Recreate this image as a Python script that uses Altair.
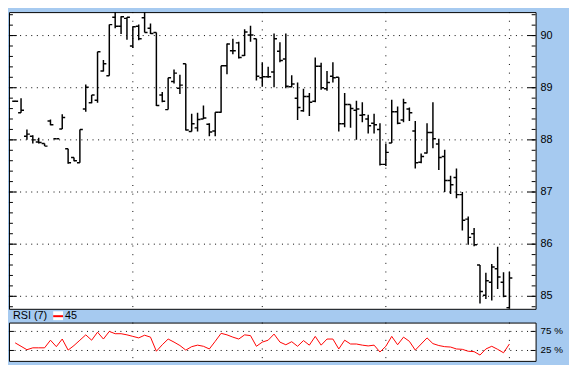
import altair as alt
import pandas as pd

# ---------------- data ----------------
opens = [88.74, 88.52, 88.07, 88.07, 87.96, 87.93, 88.36, 88.02, 88.21, 87.83,
         87.66, 87.56, 88.59, 88.71, 88.76, 89.32, 89.23, 90.35, 90.18, 90.33,
         89.80, 90.18, 90.34, 90.14, 90.06, 88.86, 88.58, 89.12, 88.99, 89.46,
         88.16, 88.23, 88.40, 88.30, 88.17, 88.53, 89.42, 89.71, 89.86, 89.62,
         90.01, 89.94, 89.19, 89.21, 89.30, 89.70, 89.55, 89.02, 88.80, 88.56,
         88.83, 88.74, 89.41, 88.98, 89.22, 89.20, 88.31, 88.68, 88.57, 88.47,
         88.40, 88.32, 88.20, 87.53, 87.94, 88.54, 88.38, 88.59, 88.17, 87.57,
         87.75, 88.14, 87.92, 87.68, 87.22, 87.28, 86.95, 86.48, 86.20, 85.60,
         85.02, 85.27, 85.53, 85.27, 84.78]
highs = [88.75, 88.80, 88.20, 88.09, 88.04, 87.93, 88.39, 88.02, 88.49, 87.83,
         87.66, 88.20, 89.06, 88.86, 89.69, 89.53, 90.21, 90.50, 90.37, 90.35,
         90.18, 90.21, 90.50, 90.23, 90.06, 88.92, 89.19, 89.35, 89.25, 89.46,
         88.50, 88.52, 88.66, 88.32, 88.53, 89.42, 89.85, 89.94, 89.88, 90.12,
         90.19, 89.94, 89.49, 89.40, 90.04, 89.87, 90.04, 89.24, 89.10, 88.98,
         88.90, 89.58, 89.48, 89.32, 89.49, 89.20, 88.90, 88.68, 88.75, 88.72,
         88.48, 88.50, 88.32, 87.93, 88.77, 88.64, 88.79, 88.62, 88.36, 87.74,
         88.32, 88.72, 88.02, 87.81, 87.31, 87.45, 87.00, 86.53, 86.31, 85.60,
         85.45, 85.62, 85.95, 85.46, 85.47]
lows = [88.73, 88.52, 88.00, 87.93, 87.93, 87.88, 88.28, 88.02, 88.21, 87.54,
        87.59, 87.56, 88.54, 88.70, 88.71, 89.31, 89.23, 90.14, 90.03, 89.92,
        89.76, 89.91, 90.06, 90.03, 88.65, 88.72, 88.58, 89.08, 88.88, 88.18,
        88.16, 88.16, 88.40, 88.07, 88.07, 88.52, 89.26, 89.64, 89.56, 89.61,
        89.88, 89.14, 89.02, 89.19, 89.01, 89.49, 88.99, 89.01, 88.38, 88.54,
        88.46, 88.72, 88.96, 88.94, 89.10, 88.16, 88.24, 88.23, 88.00, 88.34,
        88.12, 88.12, 87.51, 87.50, 87.94, 88.30, 88.34, 88.36, 87.45, 87.55,
        87.74, 87.84, 87.42, 87.00, 86.96, 86.88, 86.26, 85.99, 85.96, 84.86,
        84.95, 84.92, 85.14, 84.98, 84.75]
closes = [88.74, 88.57, 88.11, 88.00, 87.95, 87.88, 88.29, 88.02, 88.43, 87.56,
          87.60, 88.20, 89.01, 88.86, 89.69, 89.46, 90.21, 90.18, 90.36, 90.35,
          90.17, 89.94, 90.06, 90.04, 88.66, 88.74, 89.19, 89.28, 89.05, 88.19,
          88.31, 88.39, 88.42, 88.15, 88.53, 89.42, 89.84, 89.71, 89.58, 90.07,
          90.01, 89.22, 89.21, 89.21, 89.94, 89.52, 89.03, 89.07, 88.62, 88.83,
          88.72, 89.41, 89.00, 89.10, 89.19, 88.31, 88.68, 88.60, 88.59, 88.48,
          88.27, 88.29, 87.53, 87.76, 88.54, 88.32, 88.71, 88.52, 87.56, 87.68,
          88.14, 88.02, 87.66, 87.22, 87.14, 86.95, 86.46, 86.13, 85.99, 85.09,
          85.30, 85.56, 85.37, 85.00, 85.35]
rsi = [45, 36, 27, 32, 32, 32, 52, 35, 55, 26,
       38, 52, 66, 52, 73, 55, 75, 69, 69, 66,
       62, 58, 65, 60, 23, 40, 55, 47, 38, 26,
       35, 39, 36, 29, 49, 70, 66, 60, 55, 66,
       64, 36, 47, 52, 68, 47, 40, 48, 36, 51,
       39, 62, 39, 55, 55, 29, 52, 42, 42, 39,
       37, 39, 21, 36, 62, 40, 60, 49, 26, 42,
       58, 43, 38, 35, 34, 29, 28, 23, 22, 13,
       29, 36, 28, 19, 42]

rsi_title = "RSI (7)"
rsi_value_label = "45"
price_major = [85, 86, 87, 88, 89, 90]
price_major_labels = ["85", "86", "87", "88", "89", "90"]
price_minor = [84.8, 85.0, 85.2, 85.4, 85.6, 85.8, 86.0, 86.2, 86.4, 86.6,
               86.8, 87.0, 87.2, 87.4, 87.6, 87.8, 88.0, 88.2, 88.4, 88.6,
               88.8, 89.0, 89.2, 89.4, 89.6, 89.8, 90.0, 90.2, 90.4]
rsi_levels = [25, 75]
rsi_level_labels = ["25 %", "75 %"]
grid_bars = [20, 42, 63, 84]

# ---------------- layout / style ----------------
W, H_MAIN, H_RSI = 536, 302, 39
RIGHT = 33          # width of the blue label strip
BLUE = "#A6CAF0"
FONT = "Liberation Sans"

ohlc = pd.DataFrame({"i": list(range(len(opens))), "open": opens, "high": highs,
                     "low": lows, "close": closes})
rsi_df = pd.DataFrame({"i": list(range(len(rsi))), "rsi": rsi})
major_df = pd.DataFrame({"v": price_major, "lab": price_major_labels})
minor_df = pd.DataFrame({"v": price_minor})
lvl_df = pd.DataFrame({"v": rsi_levels, "lab": rsi_level_labels})
gridx_df = pd.DataFrame({"g": grid_bars})

xs = alt.Scale(domain=[-1.05, 88.45], nice=False, zero=False)
ys = alt.Scale(domain=[84.76, 90.45], nice=False, zero=False)
ys_rsi = alt.Scale(domain=[-2.3, 98.2], nice=False, zero=False)


def hgrid(df, scale):
    return alt.Chart(df).mark_rule(color="black", strokeWidth=1, strokeDash=[1, 4.67]).encode(
        y=alt.Y("v:Q", scale=scale, axis=None), x=alt.value(0), x2=alt.value(W))


def vgrid(h):
    return alt.Chart(gridx_df).mark_rule(color="black", strokeWidth=1, strokeDash=[1, 7.8]).encode(
        x=alt.X("g:Q", scale=xs, axis=None), y=alt.value(0), y2=alt.value(h))


def ticks(df, scale, x0, x1):
    return alt.Chart(df).mark_rule(color="black", strokeWidth=1).encode(
        y=alt.Y("v:Q", scale=scale, axis=None), x=alt.value(x0), x2=alt.value(x1))


def labels(df, scale, size):
    return alt.Chart(df).mark_text(align="left", baseline="middle", font=FONT,
                                   fontSize=size, color="black").encode(
        y=alt.Y("v:Q", scale=scale, axis=None), x=alt.value(W + 5), text="lab:N")


def filler(df, scale):
    # transparent rule that makes the blue label strip reach the window edge
    return alt.Chart(df).mark_rule(strokeOpacity=0).encode(
        y=alt.Y("v:Q", scale=scale, axis=None), x=alt.value(W), x2=alt.value(W + RIGHT))


hl = alt.Chart(ohlc).mark_rule(color="black", strokeWidth=1.5, clip=True).encode(
    x=alt.X("i:Q", scale=xs, axis=None),
    y=alt.Y("low:Q", scale=ys, axis=None),
    y2="high:Q",
)
open_t = alt.Chart(ohlc).transform_calculate(xo="datum.i - 0.5").mark_rule(
    color="black", strokeWidth=1.5, clip=True).encode(
    x=alt.X("xo:Q", scale=xs, axis=None), x2="i:Q",
    y=alt.Y("open:Q", scale=ys, axis=None),
)
close_t = alt.Chart(ohlc).transform_calculate(xc="datum.i + 0.5").mark_rule(
    color="black", strokeWidth=1.5, clip=True).encode(
    x=alt.X("i:Q", scale=xs, axis=None), x2="xc:Q",
    y=alt.Y("close:Q", scale=ys, axis=None),
)

# band legend (drawn just below the price panel)
BY = H_MAIN + 7
title_df = pd.DataFrame({"t": [rsi_title]})
val_df = pd.DataFrame({"t": [rsi_value_label]})
title_txt = alt.Chart(title_df).mark_text(align="left", baseline="middle", font=FONT,
                                          fontSize=11, color="black").encode(
    x=alt.value(4), y=alt.value(BY), text="t:N")
box = alt.Chart(val_df).mark_rect(color="white").encode(
    x=alt.value(45), x2=alt.value(55), y=alt.value(BY - 4.5), y2=alt.value(BY + 4.5))
swatch = alt.Chart(val_df).mark_rule(color="#ff0000", strokeWidth=2).encode(
    x=alt.value(45), x2=alt.value(55), y=alt.value(BY + 0.5))
val_txt = alt.Chart(val_df).mark_text(align="left", baseline="middle", font=FONT,
                                      fontSize=11, color="black").encode(
    x=alt.value(57), y=alt.value(BY), text="t:N")

main = alt.layer(
    hgrid(major_df, ys), vgrid(H_MAIN),
    hl, open_t, close_t,
    ticks(minor_df, ys, W - 4, W), ticks(major_df, ys, W - 8, W),
    ticks(minor_df, ys, 0, 4), ticks(major_df, ys, 0, 8),
    labels(major_df, ys, 11), filler(major_df, ys),
    title_txt, box, swatch, val_txt,
).properties(width=W, height=H_MAIN)

rsi_line = alt.Chart(rsi_df).mark_line(color="#ff0000", strokeWidth=1).encode(
    x=alt.X("i:Q", scale=xs, axis=None),
    y=alt.Y("rsi:Q", scale=ys_rsi, axis=None),
)

rsi_chart = alt.layer(
    hgrid(lvl_df, ys_rsi), vgrid(H_RSI),
    rsi_line,
    ticks(lvl_df, ys_rsi, W - 5, W), ticks(lvl_df, ys_rsi, 0, 5),
    labels(lvl_df, ys_rsi, 10), filler(lvl_df, ys_rsi),
).properties(width=W, height=H_RSI)

chart = alt.vconcat(main, rsi_chart, spacing=0).properties(
    padding=0, background=BLUE
).configure_view(fill="white", stroke="black", strokeWidth=1)

chart.save("out.html", embed_options={"renderer": "svg", "actions": False})
